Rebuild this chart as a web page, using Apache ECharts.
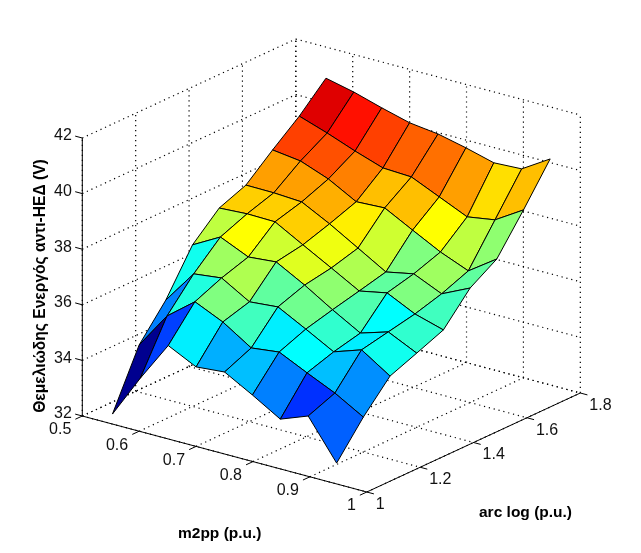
<!DOCTYPE html>
<html>
<head>
<meta charset="utf-8">
<style>html,body{margin:0;padding:0;background:#fff}#c{width:641px;height:553px}</style>
<script src="https://cdn.jsdelivr.net/npm/echarts@6/dist/echarts.min.js"></script>
</head>
<body>
<div id="c"></div>
<script>
// ---- data ----
const m2pp = [0.553, 0.602, 0.651, 0.700, 0.750, 0.799, 0.848, 0.897, 0.947];
const arcLog = [1.0, 1.1, 1.2, 1.3, 1.4, 1.5, 1.6, 1.7, 1.8];
// one row per arcLog value, one column per m2pp value
const voltage = [
  [32.36, 33.92, 35.36, 34.86, 34.95, 34.39, 33.79, 34.17, 32.75],
  [34.40, 35.71, 36.49, 36.03, 35.37, 35.49, 35.01, 34.55, 33.96],
  [35.57, 36.78, 36.90, 36.31, 36.40, 35.87, 35.32, 35.66, 34.99],
  [37.11, 37.66, 37.21, 37.30, 36.74, 36.12, 35.55, 35.86, 35.37],
  [37.99, 38.05, 38.03, 37.47, 36.91, 36.35, 36.55, 36.06, 35.76],
  [38.37, 38.36, 38.30, 37.78, 37.18, 36.59, 36.79, 36.34, 36.82],
  [39.19, 39.06, 38.68, 38.13, 38.18, 37.65, 37.13, 36.72, 37.42],
  [39.96, 39.62, 39.24, 38.90, 38.85, 38.40, 37.95, 38.11, 38.74],
  [40.88, 40.65, 40.35, 40.08, 39.95, 39.72, 39.45, 39.50, 40.13]
];
const xTicks = [0.5, 0.6, 0.7, 0.8, 0.9, 1];
const yTicks = [1, 1.2, 1.4, 1.6, 1.8];
const zTicks = [32, 34, 36, 38, 40, 42];
const xTickLabels = ['0.5', '0.6', '0.7', '0.8', '0.9', '1'];
const yTickLabels = ['1', '1.2', '1.4', '1.6', '1.8'];
const zTickLabels = ['32', '34', '36', '38', '40', '42'];
const xTitle = 'm2pp (p.u.)';
const yTitle = 'arc log (p.u.)';
const zTitle = 'Θεμελιώδης Ενεργός αντι-ΗΕΔ (V)';

// ---- view: fixed orthographic projection of the 3-D box ----
const view = {ox: 82.3, oy: 416, xx: 569, xy: 152, yx: 266.9, yy: -123.75, zy: -27.8};
function project(x, y, z) {
  return [view.ox + (x - 0.5) * view.xx + (y - 1) * view.yx,
          view.oy + (x - 0.5) * view.xy + (y - 1) * view.yy + (z - 32) * view.zy];
}

// MATLAB jet, 64 levels
const jet = (function () {
  const m = 64, n = 16, u = [];
  for (let k = 1; k <= n; k++) u.push(k / n);
  for (let k = 1; k < n; k++) u.push(1);
  for (let k = n; k >= 1; k--) u.push(k / n);
  const t = [];
  for (let k = 0; k < m; k++) t.push([0, 0, 0]);
  u.forEach(function (val, k) {
    const g = 8 + k + 1, r = g + n, b = g - n;
    if (r <= m) t[r - 1][0] = val;
    t[g - 1][1] = val;
    if (b >= 1) t[b - 1][2] = val;
  });
  return t;
})();
const allV = voltage.flat();
const vMin = Math.min.apply(null, allV), vMax = Math.max.apply(null, allV);
function colorOf(v) {
  const idx = Math.min(63, Math.floor((v - vMin) / (vMax - vMin) * 64));
  const c = jet[idx];
  return 'rgb(' + c.map(function (a) { return Math.round(a * 255); }).join(',') + ')';
}

// ---- build mark lists from the arrays ----
const xLo = 0.5, xHi = 1, yLo = 1, yHi = 1.8, zLo = 32, zHi = 42;
const dotted = [], solid = [], labels = [];
xTicks.forEach(function (x, k) {
  dotted.push([[x, yLo, zLo], [x, yHi, zLo]]);
  dotted.push([[x, yHi, zLo], [x, yHi, zHi]]);
  solid.push([[x, yLo, zLo], [x, yLo - 0.026, zLo]]);
  labels.push({p: [x, yLo, zLo], dx: -11, dy: 14, text: xTickLabels[k], align: 'right'});
});
yTicks.forEach(function (y, k) {
  dotted.push([[xLo, y, zLo], [xHi, y, zLo]]);
  dotted.push([[xLo, y, zLo], [xLo, y, zHi]]);
  solid.push([[xHi, y, zLo], [xHi + 0.0125, y, zLo]]);
  labels.push({p: [xHi, y, zLo], dx: 9, dy: 12.5, text: yTickLabels[k], align: 'left'});
});
zTicks.forEach(function (z, k) {
  dotted.push([[xLo, yLo, z], [xLo, yHi, z]]);
  dotted.push([[xLo, yHi, z], [xHi, yHi, z]]);
  solid.push([[xLo, yLo, z], [xLo - 0.0125, yLo, z]]);
  labels.push({p: [xLo, yLo, z], dx: -10.5, dy: -2, text: zTickLabels[k], align: 'right'});
});
solid.push([[xLo, yLo, zLo], [xHi, yLo, zLo]]);
solid.push([[xHi, yLo, zLo], [xHi, yHi, zLo]]);
solid.push([[xLo, yLo, zLo], [xLo, yLo, zHi]]);

// cells, far to near
const cells = [];
for (let i = 0; i < m2pp.length - 1; i++) {
  for (let j = arcLog.length - 2; j >= 0; j--) cells.push([i, j]);
}

function lineItem(list, dash, width) {
  return function (params, api) {
    const s = list[params.dataIndex];
    const a = api.coord(project.apply(null, s[0]));
    const b = api.coord(project.apply(null, s[1]));
    return {
      type: 'line',
      shape: {x1: a[0], y1: a[1], x2: b[0], y2: b[1]},
      style: {stroke: '#000', lineWidth: width, lineDash: dash, fill: null}
    };
  };
}
function idx(list) { return list.map(function (_, k) { return [k, k]; }); }

const option = {
  animation: false,
  backgroundColor: '#fff',
  grid: {left: 0, right: 0, top: 0, bottom: 0},
  xAxis: {type: 'value', min: 0, max: 641, show: false},
  yAxis: {type: 'value', min: 0, max: 553, inverse: true, show: false},
  series: [
    {type: 'custom', name: 'grid', silent: true, clip: false, z: 1, data: idx(dotted), renderItem: lineItem(dotted, [1.2, 3.8], 1.2)},
    {type: 'custom', name: 'surface', silent: true, clip: false, z: 2, data: cells,
      renderItem: function (params, api) {
        const c = cells[params.dataIndex], i = c[0], j = c[1];
        const pts = [[i, j], [i + 1, j], [i + 1, j + 1], [i, j + 1]].map(function (q) {
          return api.coord(project(m2pp[q[0]], arcLog[q[1]], voltage[q[1]][q[0]]));
        });
        return {
          type: 'polygon',
          shape: {points: pts},
          style: {fill: colorOf(voltage[j][i]), stroke: '#000', lineWidth: 1, lineJoin: 'round'}
        };
      }},
    {type: 'custom', name: 'axes', silent: true, clip: false, z: 3, data: idx(solid), renderItem: lineItem(solid, null, 1)},
    {type: 'custom', name: 'ticks', silent: true, clip: false, z: 4, data: idx(labels),
      renderItem: function (params, api) {
        const l = labels[params.dataIndex];
        const a = api.coord(project.apply(null, l.p));
        return {
          type: 'text',
          style: {text: l.text, x: a[0] + l.dx, y: a[1] + l.dy, align: l.align, verticalAlign: 'middle',
            font: '16px "Liberation Sans", Arial, sans-serif', fill: '#111'}
        };
      }}
  ],
  graphic: [
    {type: 'text', left: 178, top: 526, silent: true,
      style: {text: xTitle, font: 'bold 15.5px "Liberation Sans", Arial, sans-serif', fill: '#000'}},
    {type: 'text', left: 479, top: 505, silent: true,
      style: {text: yTitle, font: 'bold 15.5px "Liberation Sans", Arial, sans-serif', fill: '#000'}},
    {type: 'text', x: 41, y: 286, rotation: Math.PI / 2, silent: true,
      style: {text: zTitle, x: 0, y: 0, align: 'center', verticalAlign: 'middle',
        font: 'bold 15.6px "Liberation Sans", Arial, sans-serif', fill: '#000'}}
  ]
};
echarts.init(document.getElementById('c')).setOption(option);
</script>
</body>
</html>
